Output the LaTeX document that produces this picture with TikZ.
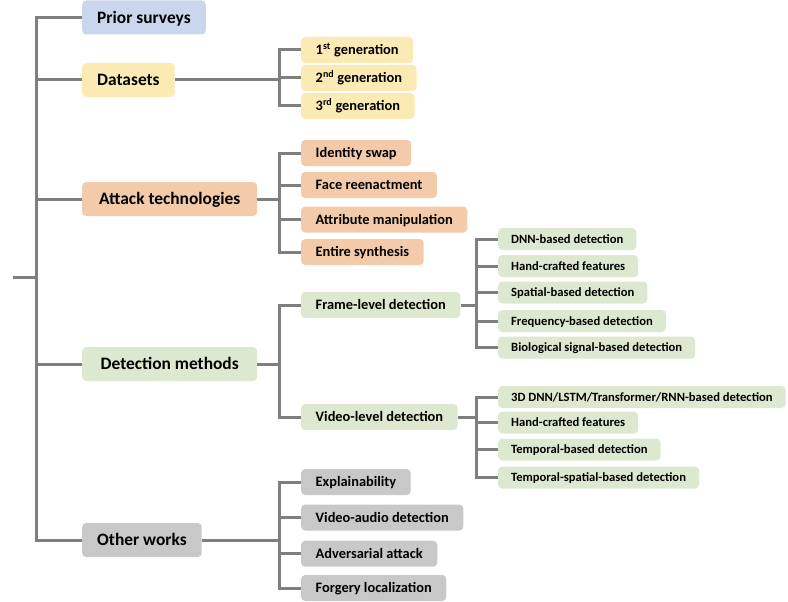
\documentclass[tikz,border=0pt]{standalone}
\usepackage{fontspec}
\setmainfont{Carlito}
\usepackage{tikz}
\usepackage{xcolor}
\definecolor{surveyblue}{HTML}{CAD6EB}
\definecolor{datayellow}{HTML}{FCEAB5}
\definecolor{attackorange}{HTML}{F3CBAA}
\definecolor{detectgreen}{HTML}{DCE8D0}
\definecolor{othergray}{HTML}{C8C8C8}
\definecolor{linegray}{HTML}{7F7F7F}

\begin{document}
\begin{tikzpicture}[x=1pt,y=-1pt,
  link/.style={draw=linegray,line width=3pt},
  box/.style={rounded corners=4pt,anchor=west,text=black,inner ysep=0pt},
  topic/.style={box,minimum height=34pt,inner xsep=15pt,text height=13pt,text depth=1.8pt,font=\fontsize{17.4}{20}\selectfont\bfseries},
  branch/.style={box,minimum height=26pt,inner xsep=14.5pt,text height=10.8pt,text depth=1.5pt,font=\fontsize{14.4}{17}\selectfont\bfseries},
  leaf/.style={box,minimum height=22pt,inner xsep=13pt,text height=9.4pt,text depth=1.3pt,font=\fontsize{12.6}{15}\selectfont\bfseries}]
\useasboundingbox (0,0) rectangle (788,602);

\node[topic,fill=surveyblue] (prior) at (82,17.5) {Prior surveys};
\node[topic,fill=datayellow] (data) at (82,80) {Datasets};
\node[topic,fill=attackorange,minimum width=175pt] (attack) at (82,199) {Attack technologies};
\node[topic,fill=detectgreen,minimum width=175pt] (detect) at (82,364) {Detection methods};
\node[topic,fill=othergray] (other) at (82,540) {Other works};

\node[branch,fill=datayellow] (gen1) at (301,50) {1\textsuperscript{st} generation};
\node[branch,fill=datayellow] (gen2) at (301,78) {2\textsuperscript{nd} generation};
\node[branch,fill=datayellow] (gen3) at (301,106) {3\textsuperscript{rd} generation};

\node[branch,fill=attackorange] (swap) at (301,153) {Identity swap};
\node[branch,fill=attackorange] (reenact) at (301,185) {Face reenactment};
\node[branch,fill=attackorange] (attrib) at (301,219.5) {Attribute manipulation};
\node[branch,fill=attackorange] (synth) at (301,252) {Entire synthesis};

\node[branch,fill=detectgreen] (frame) at (301,305) {Frame-level detection};
\node[branch,fill=detectgreen] (video) at (301,417) {Video-level detection};

\node[leaf,fill=detectgreen] (dnn) at (498,239) {DNN-based detection};
\node[leaf,fill=detectgreen] (handf) at (498,266) {Hand-crafted features};
\node[leaf,fill=detectgreen] (spatial) at (498,292.5) {Spatial-based detection};
\node[leaf,fill=detectgreen] (freq) at (498,321) {Frequency-based detection};
\node[leaf,fill=detectgreen] (bio) at (498,347.5) {Biological signal-based detection};

\node[leaf,fill=detectgreen] (seq) at (498,397) {3D DNN/LSTM/Transformer/RNN-based detection};
\node[leaf,fill=detectgreen] (handv) at (498,422.5) {Hand-crafted features};
\node[leaf,fill=detectgreen] (temporal) at (498,449.5) {Temporal-based detection};
\node[leaf,fill=detectgreen] (tempspat) at (498,477.5) {Temporal-spatial-based detection};

\node[branch,fill=othergray] (explain) at (301,482) {Explainability};
\node[branch,fill=othergray] (audio) at (301,517.5) {Video-audio detection};
\node[branch,fill=othergray] (adv) at (301,553.7) {Adversarial attack};
\node[branch,fill=othergray] (forgery) at (301,588) {Forgery localization};

\coordinate (root) at (13,277);
\foreach \n in {prior,data,attack,detect,other}
  \draw[link] (root) -- ++(23,0) |- (\n.west);

\foreach \c in {gen1,gen2,gen3}
  \draw[link] (\c.west) -- ++(-22,0) |- (data.east);
\foreach \c in {swap,reenact,attrib,synth}
  \draw[link] (\c.west) -- ++(-22,0) |- (attack.east);
\foreach \c in {frame,video}
  \draw[link] (\c.west) -- ++(-22,0) |- (detect.east);
\foreach \c in {explain,audio,adv,forgery}
  \draw[link] (\c.west) -- ++(-22,0) |- (other.east);

\foreach \c in {dnn,handf,spatial,freq,bio}
  \draw[link] (\c.west) -- ++(-22,0) |- (frame.east);
\foreach \c in {seq,handv,temporal,tempspat}
  \draw[link] (\c.west) -- ++(-22,0) |- (video.east);
\end{tikzpicture}
\end{document}
